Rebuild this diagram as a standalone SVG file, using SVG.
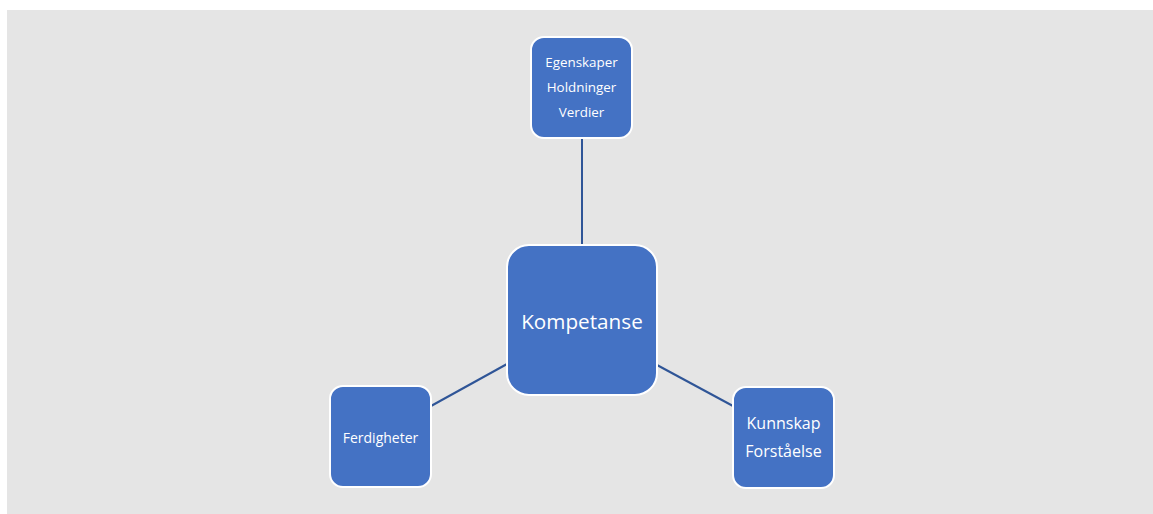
<svg xmlns="http://www.w3.org/2000/svg" width="1153" height="514" viewBox="0 0 1153 514">
<style>
.node{fill:#4472C4;stroke:#FFFFFF;stroke-width:2}
.t{fill:#FFFFFF;font-family:"Open Sans","Liberation Sans",sans-serif;text-anchor:middle;dominant-baseline:central}
.c{stroke:#2F5597;stroke-width:2;fill:none}
</style>
<rect x="7" y="10" width="1146" height="504" fill="#E5E5E5"/>
<g id="connectors">
<line class="c" x1="582" y1="138" x2="582" y2="245"/>
<line class="c" x1="431" y1="406" x2="507" y2="364"/>
<line class="c" x1="657" y1="365" x2="733" y2="406"/>
</g>
<g id="top">
<rect class="node" x="531" y="37" width="101" height="101" rx="13"/>
<text class="t" x="581.5" y="62" font-size="13.4">Egenskaper</text>
<text class="t" x="581.5" y="87" font-size="13.4">Holdninger</text>
<text class="t" x="581.5" y="112" font-size="13.4">Verdier</text>
</g>
<g id="center">
<rect class="node" x="507" y="245" width="150" height="150" rx="22"/>
<text class="t" x="582" y="321" font-size="20.7">Kompetanse</text>
</g>
<g id="left">
<rect class="node" x="330" y="386" width="101" height="101" rx="13"/>
<text class="t" x="380.5" y="437" font-size="14">Ferdigheter</text>
</g>
<g id="right">
<rect class="node" x="733" y="387" width="101" height="101" rx="13"/>
<text class="t" x="783.5" y="423" font-size="16">Kunnskap</text>
<text class="t" x="783.5" y="451" font-size="16">Forståelse</text>
</g>
</svg>
